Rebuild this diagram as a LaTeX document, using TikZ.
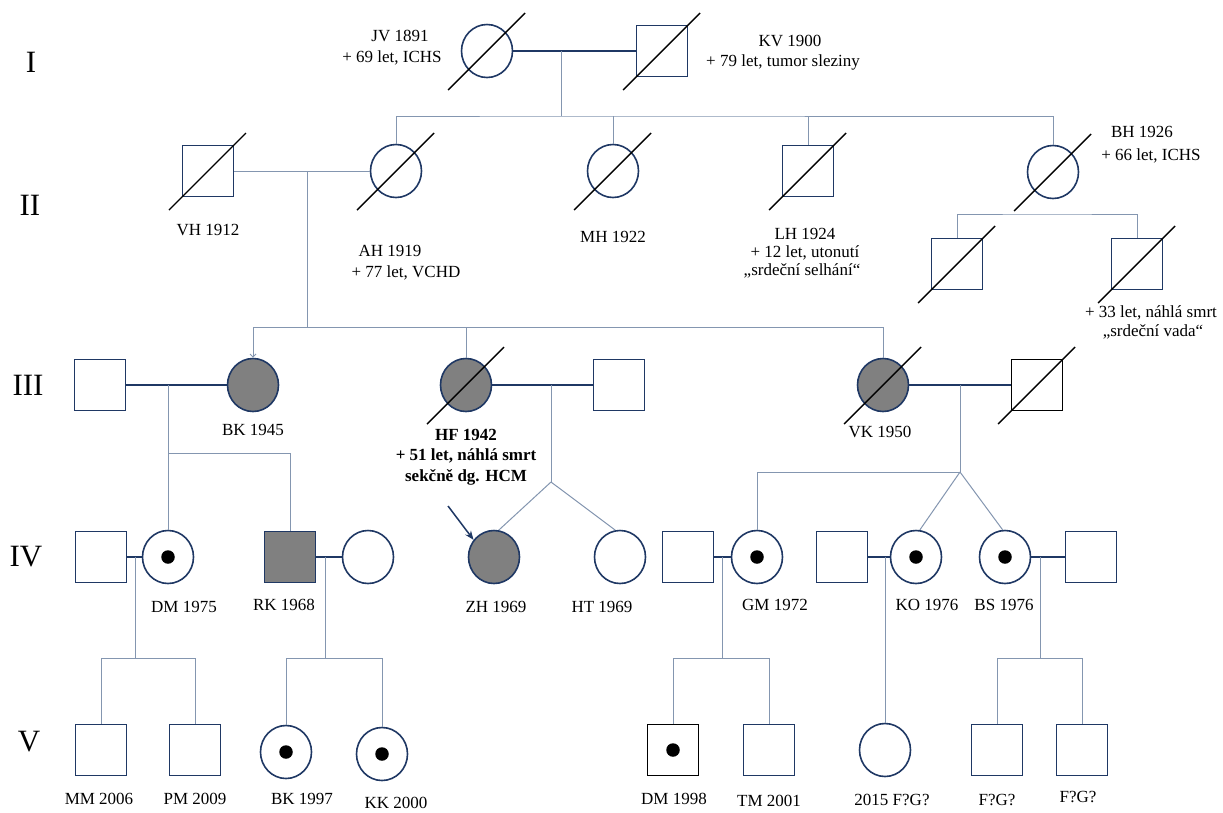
\documentclass[tikz,border=0pt]{standalone}
\usepackage{fontspec}
\setmainfont{Liberation Serif}
\usetikzlibrary{shapes.geometric,arrows.meta}
\definecolor{navy}{HTML}{1F3864}
\definecolor{conn}{HTML}{8496B0}
\definecolor{affc}{HTML}{808080}
\newcommand\deadmark[1]{\draw[slash] (#1.center) ++(-39,39) -- ++(77,-77);}
\begin{document}
\begin{tikzpicture}[x=1pt,y=-1pt,
  fem/.style={ellipse,draw=navy,line width=1.6pt,minimum width=51pt,minimum height=53pt,inner sep=0pt,fill=white},
  mal/.style={rectangle,draw=navy,line width=1.6pt,minimum width=51pt,minimum height=51pt,inner sep=0pt,fill=white},
  affected/.style={fill=affc},
  marr/.style={draw=navy,line width=2pt},
  con/.style={draw=conn,line width=1pt},
  slash/.style={draw=black,line width=1.4pt},
  dotmark/.style={circle,fill=black,inner sep=0pt,minimum size=13.5pt},
  lbl/.style={font=\fontsize{17}{20}\selectfont,inner sep=0pt,anchor=center},
  blbl/.style={font=\fontsize{17}{20}\selectfont\bfseries,inner sep=0pt,anchor=center},
  gen/.style={font=\fontsize{31}{36}\selectfont,inner sep=0pt},
]
\useasboundingbox (0,0) rectangle (1223,812);
\fill[white] (0,0) rectangle (1223,812);

% generation labels
\node[gen] (g1) at (31,62) {I};
\node[gen] (g2) at (30,205) {II};
\node[gen] (g3) at (28,385) {III};
\node[gen] (g4) at (26,557) {IV};
\node[gen] (g5) at (29,742) {V};

% generation I
\node[fem] (jv) at (487,51) {};
\node[mal] (kv) at (662,51) {};
% generation II
\node[mal] (vh) at (208,171) {};
\node[fem] (ah) at (396,171) {};
\node[fem] (mh) at (613,171) {};
\node[mal] (lh) at (808,171) {};
\node[fem] (bh) at (1053,172) {};
\node[mal] (bh1) at (957,264) {};
\node[mal] (bh2) at (1137,264) {};
% generation III
\node[mal] (bkh) at (100,385) {};
\node[fem,affected] (bk) at (253,385) {};
\node[fem,affected] (hf) at (466,385) {};
\node[mal] (hfh) at (619,385) {};
\node[fem,affected] (vk) at (883,385) {};
\node[mal,draw=black] (vkh) at (1037,385) {};
% generation IV
\node[mal] (dmh) at (101,557) {};
\node[fem] (dm) at (168,557) {};
\node[mal,affected] (rk) at (290,557) {};
\node[fem] (rkw) at (368,557) {};
\node[fem,affected] (zh) at (494,557) {};
\node[fem] (ht) at (620,557) {};
\node[mal] (gmh) at (688,557) {};
\node[fem] (gm) at (757,557) {};
\node[mal] (koh) at (842,557) {};
\node[fem] (ko) at (916,557) {};
\node[fem] (bs) at (1005,557) {};
\node[mal] (bsh) at (1091,557) {};
% generation V
\node[mal] (mm) at (101,750) {};
\node[mal] (pm) at (195,750) {};
\node[fem] (bk97) at (286,752) {};
\node[fem] (kk) at (382,754) {};
\node[mal,draw=black,line width=1pt] (dm98) at (673,750) {};
\node[mal] (tm) at (769,750) {};
\node[fem] (f15) at (885,750) {};
\node[mal] (fg1) at (997,750) {};
\node[mal] (fg2) at (1082,750) {};

% coordinates on lines
\coordinate (m1) at (561,51);
\coordinate (s1) at (561,116);
\coordinate (m2) at (307,171);
\coordinate (s2) at (307,327);
\coordinate (sb) at (1047,214);
\coordinate (m3a) at (168,385);
\coordinate (s3a) at (168,453);
\coordinate (m3b) at (551,385);
\coordinate (f3b) at (551,482);
\coordinate (m3c) at (960,385);
\coordinate (f3c) at (960,472);
\coordinate (m4a) at (135,557);
\coordinate (s4a) at (135,658);
\coordinate (m4b) at (325,557);
\coordinate (s4b) at (325,658);
\coordinate (m4c) at (722,557);
\coordinate (s4c) at (722,658);
\coordinate (m4d) at (885,557);
\coordinate (m4e) at (1040,557);
\coordinate (s4e) at (1040,658);
\coordinate (arr) at (448,506);

% marriages
\draw[marr] (jv) -- (kv);
\draw[con] (vh) -- (ah);
\draw[marr] (bkh) -- (bk);
\draw[marr] (hf) -- (hfh);
\draw[marr] (vk) -- (vkh);
\draw[marr] (dmh) -- (dm);
\draw[marr] (rk) -- (rkw);
\draw[marr] (gmh) -- (gm);
\draw[marr] (koh) -- (ko);
\draw[marr] (bs) -- (bsh);

% descent lines
\draw[con] (m1) -- (s1);
\draw[con] (ah.north) |- (s1) -| (bh.north);
\draw[con] (mh.north) -- (mh.north |- s1);
\draw[con] (lh.north) -- (lh.north |- s1);
\draw[con] (bh1.north) |- (sb) -| (bh2.north);
\draw[con] (m2) -- (s2);
\draw[con] (s2) -| (vk.north);
\draw[con,-{Straight Barb[length=3pt,width=6pt]}] (s2) -| (bk.north);
\draw[con] (hf.north) -- (hf.north |- s2);
\draw[con] (m3a) -- (dm.north);
\draw[con] (s3a) -| (rk.north);
\draw[con] (m3b) -- (f3b);
\draw[con] (f3b) -- (zh.80);
\draw[con] (f3b) -- (ht.100);
\draw[con] (m3c) -- (f3c);
\draw[con] (f3c) -| (gm.north);
\draw[con] (f3c) -- (ko.82);
\draw[con] (f3c) -- (bs.95);
\draw[con] (m4a) -- (s4a);
\draw[con] (mm.north) |- (s4a) -| (pm.north);
\draw[con] (m4b) -- (s4b);
\draw[con] (bk97.north) |- (s4b) -| (kk.north);
\draw[con] (m4c) -- (s4c);
\draw[con] (dm98.north) |- (s4c) -| (tm.north);
\draw[con] (m4d) -- (f15.north);
\draw[con] (m4e) -- (s4e);
\draw[con] (fg1.north) |- (s4e) -| (fg2.north);

% proband arrow
\draw[draw=navy,line width=1.5pt,-{Stealth[length=9pt,width=7pt]}] (arr) -- (zh.140);

% deceased
\deadmark{jv}
\deadmark{kv}
\deadmark{vh}
\deadmark{ah}
\deadmark{mh}
\deadmark{lh}
\deadmark{bh}
\deadmark{bh1}
\deadmark{bh2}
\deadmark{hf}
\deadmark{vk}
\deadmark{vkh}

% carriers
\node[dotmark] (d1) at (dm) {};
\node[dotmark] (d2) at (gm) {};
\node[dotmark] (d3) at (ko) {};
\node[dotmark] (d4) at (bs) {};
\node[dotmark] (d5) at (bk97) {};
\node[dotmark] (d6) at (kk) {};
\node[dotmark] (d7) at (dm98) {};

% texts
\node[lbl] (tjv1) at (400,36) {JV 1891};
\node[lbl] (tjv2) at (392,58) {+ 69 let, ICHS};
\node[lbl] (tkv1) at (790,41) {KV 1900};
\node[lbl] (tkv2) at (783,62) {+ 79 let, tumor sleziny};
\node[lbl] (tvh) at (208,230) {VH 1912};
\node[lbl] (tah1) at (390,251) {AH 1919};
\node[lbl] (tah2) at (406,273) {+ 77 let, VCHD};
\node[lbl] (tmh) at (613,237) {MH 1922};
\node[lbl] (tlh1) at (805,234) {LH 1924};
\node[lbl] (tlh2) at (805,253) {+ 12 let, utonutí};
\node[lbl] (tlh3) at (802,271) {„srdeční selhání“};
\node[lbl] (tbh1) at (1142,132) {BH 1926};
\node[lbl] (tbh2) at (1151,156) {+ 66 let, ICHS};
\node[lbl] (tbc1) at (1151,313) {+ 33 let, náhlá smrt};
\node[lbl] (tbc2) at (1153,332) {„srdeční vada“};
\node[lbl] (tbk) at (253,430) {BK 1945};
\node[blbl] (thf1) at (466,435) {HF 1942};
\node[blbl] (thf2) at (466,456) {+ 51 let, náhlá smrt};
\node[blbl] (thf3) at (466,477) {sekčně dg. HCM};
\node[lbl] (tvk) at (880,432) {VK 1950};
\node[lbl] (tdm) at (184,607) {DM 1975};
\node[lbl] (trk) at (284,605) {RK 1968};
\node[lbl] (tzh) at (496,607) {ZH 1969};
\node[lbl] (tht) at (602,607) {HT 1969};
\node[lbl] (tgm) at (775,605) {GM 1972};
\node[lbl] (tko) at (927,605) {KO 1976};
\node[lbl] (tbs) at (1004,605) {BS 1976};
\node[lbl] (tmm) at (99,799) {MM 2006};
\node[lbl] (tpm) at (195,799) {PM 2009};
\node[lbl] (tbk97) at (302,799) {BK 1997};
\node[lbl] (tkk) at (396,803) {KK 2000};
\node[lbl] (tdm98) at (674,799) {DM 1998};
\node[lbl] (ttm) at (769,801) {TM 2001};
\node[lbl] (tf15) at (892,800) {2015 F?G?};
\node[lbl] (tfg1) at (997,800) {F?G?};
\node[lbl] (tfg2) at (1078,797) {F?G?};
\end{tikzpicture}
\end{document}
